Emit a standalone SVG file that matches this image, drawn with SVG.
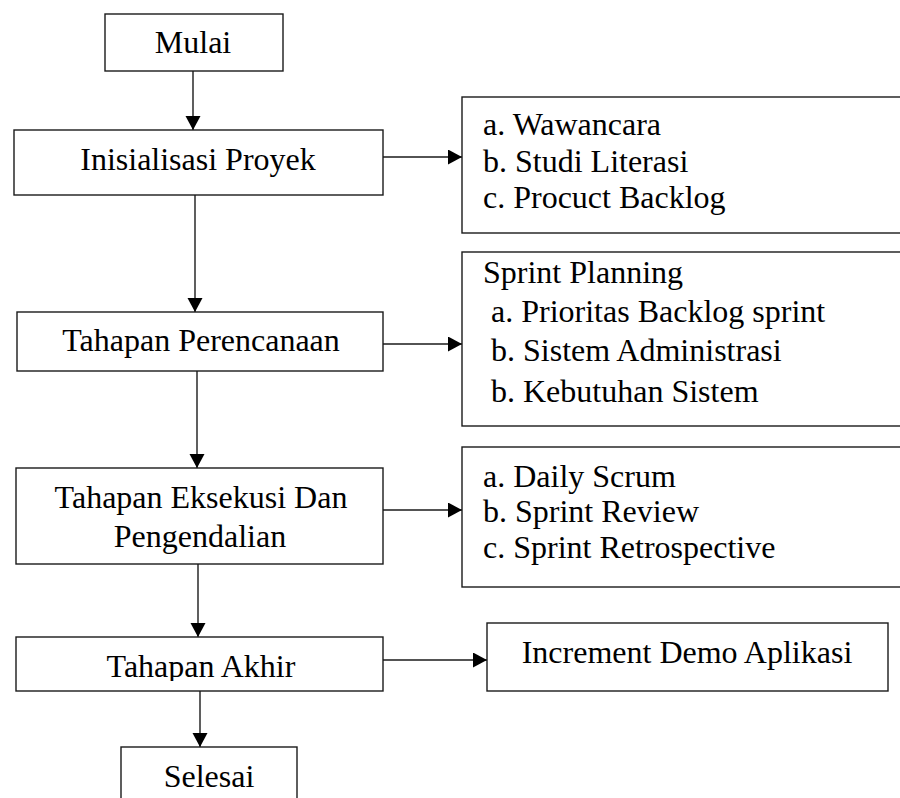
<svg xmlns="http://www.w3.org/2000/svg" width="900" height="798" viewBox="0 0 900 798">
<style>
.box{fill:#fff;stroke:#1a1a1a;stroke-width:1.4}
.t{font-family:"Liberation Serif","Times New Roman",serif;font-size:32px;fill:#000}
.c{text-anchor:middle}
.ln{stroke:#1a1a1a;stroke-width:1.4;fill:none;marker-end:url(#ah)}
</style>
<defs>
<marker id="ah" markerUnits="userSpaceOnUse" markerWidth="16" markerHeight="16" refX="14" refY="7.5" orient="auto" viewBox="0 0 16 16">
<path d="M0,0 L14,7.5 L0,15 Z" fill="#000"/>
</marker>
<clipPath id="akhirClip"><rect x="16" y="637" width="367" height="44"/></clipPath>
</defs>
<rect width="900" height="798" fill="#fff"/>
<g id="connectors">
<line class="ln" x1="193" y1="71" x2="193" y2="130"/>
<line class="ln" x1="195" y1="195" x2="195" y2="312"/>
<line class="ln" x1="197" y1="371" x2="197" y2="468"/>
<line class="ln" x1="198" y1="564" x2="198" y2="637"/>
<line class="ln" x1="200" y1="691" x2="200" y2="747"/>
<line class="ln" x1="383" y1="157" x2="462" y2="157"/>
<line class="ln" x1="383" y1="344" x2="462" y2="344"/>
<line class="ln" x1="383" y1="510" x2="462" y2="510"/>
<line class="ln" x1="383" y1="660" x2="487" y2="660"/>
</g>
<g id="mulai">
<rect class="box" x="105" y="14" width="178" height="57"/>
<text class="t c" x="193" y="53">Mulai</text>
</g>
<g id="inisialisasi">
<rect class="box" x="14" y="130" width="369" height="65"/>
<text class="t c" x="198" y="170">Inisialisasi Proyek</text>
</g>
<g id="perencanaan">
<rect class="box" x="17" y="312" width="366" height="59"/>
<text class="t c" x="201" y="351">Tahapan Perencanaan</text>
</g>
<g id="eksekusi">
<rect class="box" x="16" y="468" width="367" height="96"/>
<text class="t c" x="201" y="508">Tahapan Eksekusi Dan</text>
<text class="t c" x="200" y="547">Pengendalian</text>
</g>
<g id="akhir">
<rect class="box" x="16" y="637" width="367" height="54"/>
<text class="t c" x="201" y="677" clip-path="url(#akhirClip)">Tahapan Akhir</text>
</g>
<g id="selesai">
<rect class="box" x="121" y="747" width="176" height="70"/>
<text class="t c" x="209" y="787">Selesai</text>
</g>
<g id="inisialisasi-detail">
<rect class="box" x="462" y="97" width="450" height="136"/>
<text class="t" x="483" y="135">a. Wawancara</text>
<text class="t" x="483" y="172">b. Studi Literasi</text>
<text class="t" x="483" y="208">c. Procuct Backlog</text>
</g>
<g id="perencanaan-detail">
<rect class="box" x="462" y="252" width="450" height="174"/>
<text class="t" x="483" y="283">Sprint Planning</text>
<text class="t" x="491" y="322">a. Prioritas Backlog sprint</text>
<text class="t" x="491" y="361">b. Sistem Administrasi</text>
<text class="t" x="491" y="402">b. Kebutuhan Sistem</text>
</g>
<g id="eksekusi-detail">
<rect class="box" x="462" y="447" width="450" height="140"/>
<text class="t" x="483" y="487">a. Daily Scrum</text>
<text class="t" x="483" y="522">b. Sprint Review</text>
<text class="t" x="483" y="558">c. Sprint Retrospective</text>
</g>
<g id="increment">
<rect class="box" x="487" y="623" width="401" height="68"/>
<text class="t c" x="687" y="663">Increment Demo Aplikasi</text>
</g>
</svg>
